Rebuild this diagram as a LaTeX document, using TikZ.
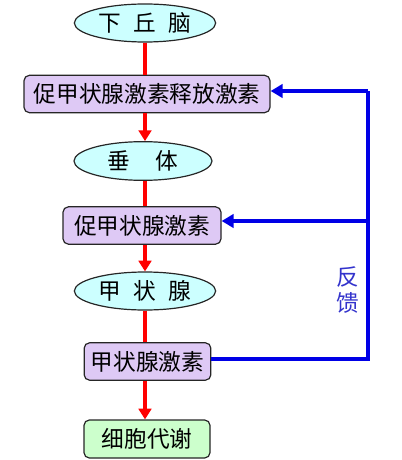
\documentclass[tikz,border=0pt]{standalone}
\usepackage{fontspec}
\setmainfont{Noto Sans CJK SC}
\usetikzlibrary{shapes.geometric,arrows.meta}
\definecolor{organfill}{HTML}{CCFFFF}
\definecolor{hormfill}{HTML}{DEC9F5}
\definecolor{cellfill}{HTML}{CCFFCC}
\definecolor{fbblue}{HTML}{0000E6}
\definecolor{fbtextblue}{HTML}{3333CC}
\tikzset{
  organ/.style={draw=black!85,line width=0.9pt,fill=organfill,shape=ellipse,inner sep=0pt,
    minimum width=106pt,minimum height=28.5pt,font=\fontsize{17}{19}\selectfont},
  hormone/.style={draw=black!85,line width=0.9pt,fill=hormfill,rounded corners=4pt,inner sep=0pt,
    minimum height=28pt,font=\fontsize{17}{19}\selectfont},
  cell/.style={hormone,fill=cellfill},
  flow/.style={draw=red,line width=3pt},
  flowarrow/.style={flow,-{Triangle[length=8pt,width=9.5pt]}},
  fbline/.style={draw=fbblue,line width=3pt},
  fbarrow/.style={fbline,-{Triangle[length=9pt,width=10pt]}}
}
\begin{document}
\begin{tikzpicture}[x=0.75pt,y=-0.75pt]
\useasboundingbox (0,0) rectangle (402,460);
\node at (145,23) [organ](hypo){下\hspace{0.55em}丘\hspace{0.55em}脑};
\node at (147,94) [hormone,minimum width=184.5pt](trh){促甲状腺激素释放激素};
\node at (143,161) [organ,minimum width=103.5pt,minimum height=29pt](pit){垂\hspace{1.1em}体};
\node at (142,225.5) [hormone,minimum width=118.5pt](tsh){促甲状腺激素};
\node at (145,291) [organ](thy){甲\hspace{0.55em}状\hspace{0.55em}腺};
\node at (147.5,361.5) [hormone,minimum width=95pt](th){甲状腺激素};
\node at (147,439) [cell,minimum width=94.5pt,minimum height=28.5pt](meta){细胞代谢};
\node at (348,290) [text=fbtextblue,align=center,font=\fontsize{17}{19}\selectfont](fb){反\\馈};
\coordinate (fbTop) at (368,91);
\coordinate (fbMid) at (368,221);
\coordinate (fbBot) at (368,359);
\draw[flow] (hypo.south) -- (hypo.south |- trh.north);
\draw[flowarrow] (trh.south -| hypo.south) -- (pit.north -| hypo.south);
\draw[flow] (pit.south -| hypo.south) -- (tsh.north -| hypo.south);
\draw[flowarrow] (tsh.south -| hypo.south) -- (thy.north -| hypo.south);
\draw[flow] (thy.south -| hypo.south) -- (th.north -| hypo.south);
\draw[flowarrow] (th.south -| hypo.south) -- (meta.north -| hypo.south);
\draw[fbline] (fbBot -| th.east) -- (fbBot) -- (fbTop);
\draw[fbarrow] (fbTop) -- (fbTop -| trh.east);
\draw[fbarrow] (fbMid) -- (fbMid -| tsh.east);
\end{tikzpicture}
\end{document}
